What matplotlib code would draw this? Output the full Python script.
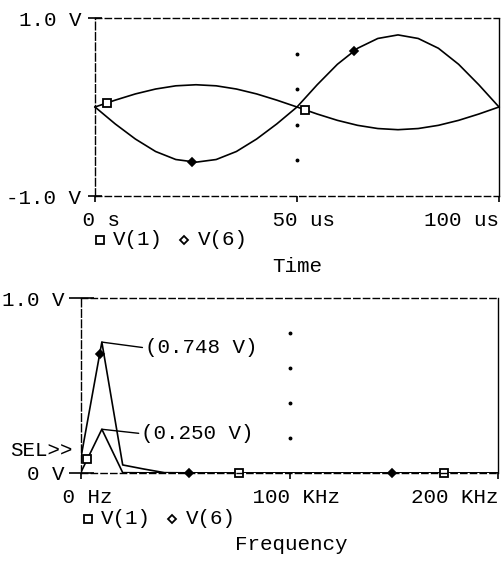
import numpy as np
import matplotlib.pyplot as plt

plt.rcParams['font.family'] = ['Liberation Mono', 'DejaVu Sans Mono']
plt.rcParams['font.size'] = 15
plt.rcParams['lines.scale_dashes'] = False

# transient analysis, time in us
t_us = [0, 5, 10, 15, 20, 25, 30, 35, 40, 45, 50,
        55, 60, 65, 70, 75, 80, 85, 90, 95, 100]
v1 = [0.0, 0.077, 0.147, 0.202, 0.238, 0.25, 0.238, 0.202, 0.147, 0.077, 0.0,
      -0.079, -0.150, -0.206, -0.242, -0.255, -0.242, -0.206, -0.150, -0.079, 0.0]
v6 = [0.0, -0.19, -0.36, -0.50, -0.59, -0.62, -0.59, -0.50, -0.36, -0.19, 0.0,
      0.25, 0.48, 0.66, 0.77, 0.81, 0.77, 0.66, 0.48, 0.25, 0.0]
v1_mark_t = [3, 52]
v6_mark_t = [24, 64]
t_ticks = [0, 50, 100]
t_labels = [" 0 s", " 50 us", "100 us"]

# fourier analysis, frequency in kHz
f_khz = [0, 10, 20, 30, 40, 50, 60, 70, 80, 90, 100,
         110, 120, 130, 140, 150, 160, 170, 180, 190, 200, 210]
v1_fft = [0.005, 0.250, 0.002, 0.001, 0.001, 0.0, 0.0, 0.0, 0.0, 0.0, 0.0,
          0.0, 0.0, 0.0, 0.0, 0.0, 0.0, 0.0, 0.0, 0.0, 0.0, 0.0]
v6_fft = [0.09, 0.748, 0.046, 0.023, 0.002, 0.001, 0.0, 0.0, 0.0, 0.0, 0.0,
          0.0, 0.0, 0.0, 0.0, 0.0, 0.0, 0.0, 0.0, 0.0, 0.0, 0.0]
v1_mark_f = [3, 76, 174]
v6_mark_f = [9, 52, 149]
f_ticks = [0, 100, 200]
f_labels = [" 0 Hz", " 100 KHz", "200 KHz"]

W, H = 501, 564


def fx(x):
    return x / W


def fy(y):
    return 1 - y / H


fig = plt.figure(figsize=(W / 100, H / 100), dpi=100)
ax1 = fig.add_axes([fx(95), fy(196), (499 - 95) / W, (196 - 18) / H])
ax2 = fig.add_axes([fx(81), fy(473), (498 - 81) / W, (473 - 298) / H])

sq = dict(marker='s', ms=6, mfc='white', mec='black', mew=1.3, ls='none')
dm = dict(marker='D', ms=4.5, mfc='black', mec='black', mew=1.2, ls='none')
dm_leg = dict(marker='D', ms=4, mfc='white', mec='black', mew=1.3, ls='none')


def frame(ax):
    for side in ax.spines:
        ax.spines[side].set_linewidth(1.0)
    ax.spines['left'].set_linestyle((0, (5.5, 2.0)))
    ax.spines['top'].set_linestyle((0, (4.5, 2.5)))
    ax.spines['bottom'].set_linestyle((0, (4.5, 2.5)))
    ax.spines['right'].set_linestyle((0, (2.0, 1.0)))


# --- top: time domain
ax1.plot(t_us, v1, color='black', lw=1.2, clip_on=False)
ax1.plot(t_us, v6, color='black', lw=1.2, clip_on=False)
ax1.plot(v1_mark_t, np.interp(v1_mark_t, t_us, v1), **sq)
ax1.plot(v6_mark_t, np.interp(v6_mark_t, t_us, v6), **dm)
ax1.plot([50] * 4, [-0.6, -0.2, 0.2, 0.6], ls='none', marker='o', ms=1.8, color='black')
ax1.set_xlim(0, 100)
ax1.set_ylim(-1, 1)
ax1.set_xticks(t_ticks)
ax1.set_xticklabels(t_labels)
ax1.set_yticks([-1, 1])
ax1.set_yticklabels(["-1.0 V", "1.0 V"])
ax1.tick_params(axis='x', direction='out', length=4.5, width=1.2, pad=6.5)
ax1.tick_params(axis='y', direction='inout', length=10, width=1.2, pad=5)
ax1.get_xticklabels()[-1].set_ha('right')
frame(ax1)

# --- bottom: fourier
ax2.plot(f_khz, v1_fft, color='black', lw=1.2)
ax2.plot(f_khz, v6_fft, color='black', lw=1.2)
ax2.plot(v1_mark_f, np.interp(v1_mark_f, f_khz, v1_fft), clip_on=False, **sq)
ax2.plot(v6_mark_f, np.interp(v6_mark_f, f_khz, v6_fft), clip_on=False, **dm)
ax2.plot([100] * 4, [0.2, 0.4, 0.6, 0.8], ls='none', marker='o', ms=1.8, color='black')
ax2.set_xlim(0, 200)
ax2.set_ylim(0, 1)
ax2.set_xticks(f_ticks)
ax2.set_xticklabels(f_labels)
ax2.set_yticks([0, 1])
ax2.set_yticklabels(["0 V", "1.0 V"])
ax2.tick_params(axis='x', direction='out', length=4, width=1.2, pad=7)
ax2.tick_params(axis='y', direction='inout', length=18, width=1.2, pad=3)
ax2.get_xticklabels()[-1].set_ha('right')
frame(ax2)

arrow = dict(arrowstyle='-', lw=1.0, color='black', shrinkA=0, shrinkB=0, relpos=(0, 0.5))
ax2.annotate("(%.3f V)" % max(v6_fft), xy=(f_khz[1], max(v6_fft)), xytext=(30.8, 0.715),
             va='center', ha='left', arrowprops=arrow)
ax2.annotate("(%.3f V)" % max(v1_fft), xy=(f_khz[1], max(v1_fft)), xytext=(29.0, 0.225),
             va='center', ha='left', arrowprops=arrow)

fig.text(fx(73), fy(450), "SEL>>", ha='right', va='center')

# legends and axis titles
ax1.plot([fx(100)], [fy(240)], transform=fig.transFigure, clip_on=False, **sq)
fig.text(fx(113), fy(240), "V(1)", ha='left', va='center')
ax1.plot([fx(184)], [fy(240)], transform=fig.transFigure, clip_on=False, **dm_leg)
fig.text(fx(198), fy(240), "V(6)", ha='left', va='center')
fig.text(fx(297), fy(267), "Time", ha='center', va='center')

ax2.plot([fx(88)], [fy(519)], transform=fig.transFigure, clip_on=False, **sq)
fig.text(fx(101), fy(519), "V(1)", ha='left', va='center')
ax2.plot([fx(172)], [fy(519)], transform=fig.transFigure, clip_on=False, **dm_leg)
fig.text(fx(186), fy(519), "V(6)", ha='left', va='center')
fig.text(fx(291), fy(544), "Frequency", ha='center', va='center')

fig.savefig("out.png", dpi=100)
